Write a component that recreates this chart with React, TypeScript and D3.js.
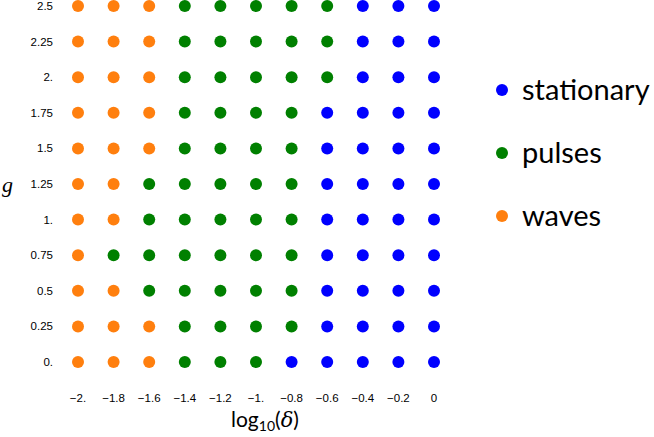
import React from "react";
import * as d3 from "d3";

// grid values
const deltaLogs = [-2, -1.8, -1.6, -1.4, -1.2, -1, -0.8, -0.6, -0.4, -0.2, 0];
const gValues = [0, 0.25, 0.5, 0.75, 1, 1.25, 1.5, 1.75, 2, 2.25, 2.5];
const xTickLabels = ["\u22122.", "\u22121.8", "\u22121.6", "\u22121.4", "\u22121.2", "\u22121.", "\u22120.8", "\u22120.6", "\u22120.4", "\u22120.2", "0"];
const yTickLabels = ["0.", "0.25", "0.5", "0.75", "1.", "1.25", "1.5", "1.75", "2.", "2.25", "2.5"];

// phase per cell, one row per g value (bottom to top), W = waves, P = pulses, S = stationary
const phaseRows = [
  "WWWPPPSSSSS",
  "WWWPPPPSSSS",
  "WWPPPPPSSSS",
  "WPPPPPPSSSS",
  "WWPPPPPSSSS",
  "WWPPPPPSSSS",
  "WWWPPPPSSSS",
  "WWWPPPPSSSS",
  "WWWPPPPPSSS",
  "WWWPPPPPSSS",
  "WWWPPPPPSSS",
];

const legendNames = ["stationary", "pulses", "waves"];
const legendCodes = ["S", "P", "W"];
const phaseColors: Record<string, string> = { S: "#0000ff", P: "#008000", W: "#ff7f0e" };

export default function App() {
  const width = 654;
  const height = 437;
  const x = d3.scaleLinear().domain([-2, 0]).range([78, 434]);
  const y = d3.scaleLinear().domain([0, 2.5]).range([362, 6]);
  const legendY = d3.scalePoint().domain(legendNames).range([90, 216]);

  const cells = phaseRows.flatMap((row, i) =>
    row.split("").map((code, j) => ({ x: deltaLogs[j], g: gValues[i], code }))
  );

  return (
    <svg width={width} height={height} style={{ position: "absolute", left: 0, top: 0 }}>
      <rect width={width} height={height} fill="white" />
      {cells.map((c, k) => (
        <circle key={k} cx={x(c.x)} cy={y(c.g)} r={6} fill={phaseColors[c.code]} />
      ))}
      {/* y tick labels */}
      {gValues.map((g, i) => (
        <text key={"y" + i} x={53} y={y(g)} dy="0.35em" textAnchor="end"
          fontFamily="Liberation Sans, Arial, sans-serif" fontSize={11.5} fill="#000">
          {yTickLabels[i]}
        </text>
      ))}
      {/* x tick labels */}
      {deltaLogs.map((d, i) => (
        <text key={"x" + i} x={x(d)} y={398} dy="0.35em" textAnchor="middle"
          fontFamily="Liberation Sans, Arial, sans-serif" fontSize={11.5} fill="#000">
          {xTickLabels[i]}
        </text>
      ))}
      {/* axis titles */}
      <text x={265} y={427} textAnchor="middle" fontFamily="Lato, sans-serif" fontSize={21} fill="#000">
        log<tspan fontSize={14} dy={4}>10</tspan><tspan dy={-4}>(</tspan><tspan fontFamily="DejaVu Serif, serif" fontStyle="italic">δ</tspan>)
      </text>
      <text x={2} y={192} fontFamily="Liberation Serif, serif" fontStyle="italic" fontSize={22} fill="#000">g</text>
      {/* legend */}
      {legendNames.map((name, i) => (
        <g key={name}>
          <circle cx={502} cy={legendY(name)} r={6} fill={phaseColors[legendCodes[i]]} />
          <text x={522} y={legendY(name)} dy="0.35em" fontFamily="Lato, sans-serif" fontSize={29} fill="#000">
            {name}
          </text>
        </g>
      ))}
    </svg>
  );
}
